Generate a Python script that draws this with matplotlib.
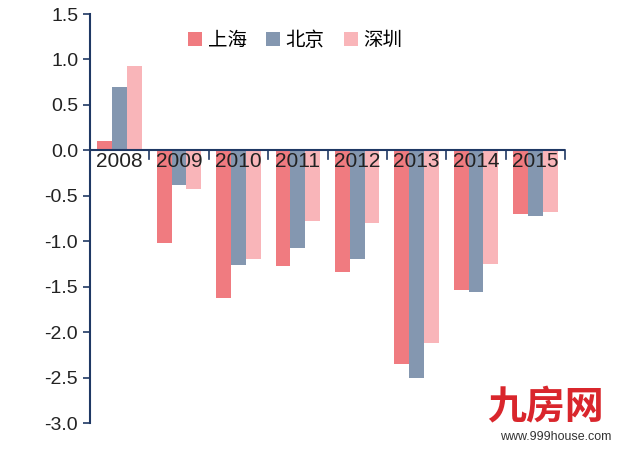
import matplotlib
matplotlib.use("Agg")
import matplotlib.pyplot as plt
import numpy as np

plt.rcParams['font.family'] = ['Liberation Sans', 'Noto Sans CJK SC', 'DejaVu Sans']

years = ['2008','2009','2010','2011','2012','2013','2014','2015']
shanghai = [0.10,-1.02,-1.63,-1.27,-1.34,-2.35,-1.54,-0.70]
beijing  = [0.70,-0.38,-1.26,-1.08,-1.20,-2.50,-1.56,-0.72]
shenzhen = [0.93,-0.42,-1.20,-0.78,-0.80,-2.12,-1.25,-0.68]
names = ['上海','北京','深圳']
colors = ['#f07b80','#8497b0','#f9b5b9']

fig = plt.figure(figsize=(6.25,4.51), dpi=100)
ax = fig.add_axes([90/625, 1-423/451, (565-90)/625, (423-14)/451])
x = np.arange(len(years))
w = 0.25
for i,(vals,n,c) in enumerate(zip([shanghai,beijing,shenzhen],names,colors)):
    ax.bar(x+(i-1)*w, vals, w, color=c, label=n)
ax.set_xlim(-0.5, len(years)-0.5)
ax.set_ylim(-3.0, 1.5)
ax.set_yticks(np.arange(-3.0,1.51,0.5))
ax.set_yticklabels([f'{v:.1f}' for v in np.arange(-3.0,1.51,0.5)], fontsize=14, color='#222222')
ax.tick_params(axis='y', direction='out', length=5, color='#1f3864', width=1.2)
for s in ['top','right','bottom']:
    ax.spines[s].set_visible(False)
ax.spines['left'].set_color('#1f3864'); ax.spines['left'].set_linewidth(1.5)
ax.axhline(0, color='#1f3864', lw=1.5)
ax.set_xticks([])
for k in range(len(years)+1):
    ax.plot([k-0.5,k-0.5],[0,-0.1], color='#1f3864', lw=1.2, clip_on=False)
for k,yv in enumerate(years):
    ax.text(k, -0.02, yv, ha='center', va='top', fontsize=15, color='#222222')
ax.legend(loc='upper left', bbox_to_anchor=(0.17,1.0), ncol=3, frameon=False,
          fontsize=14, handlelength=0.7, handleheight=0.7, columnspacing=1.0, handletextpad=0.3)
fig.text(0.78, 0.07, '九房网', fontsize=28, color='#d9262c', fontweight='bold')
fig.text(0.80, 0.025, 'www.999house.com', fontsize=9, color='#333333')
fig.savefig('out.png', dpi=100)
